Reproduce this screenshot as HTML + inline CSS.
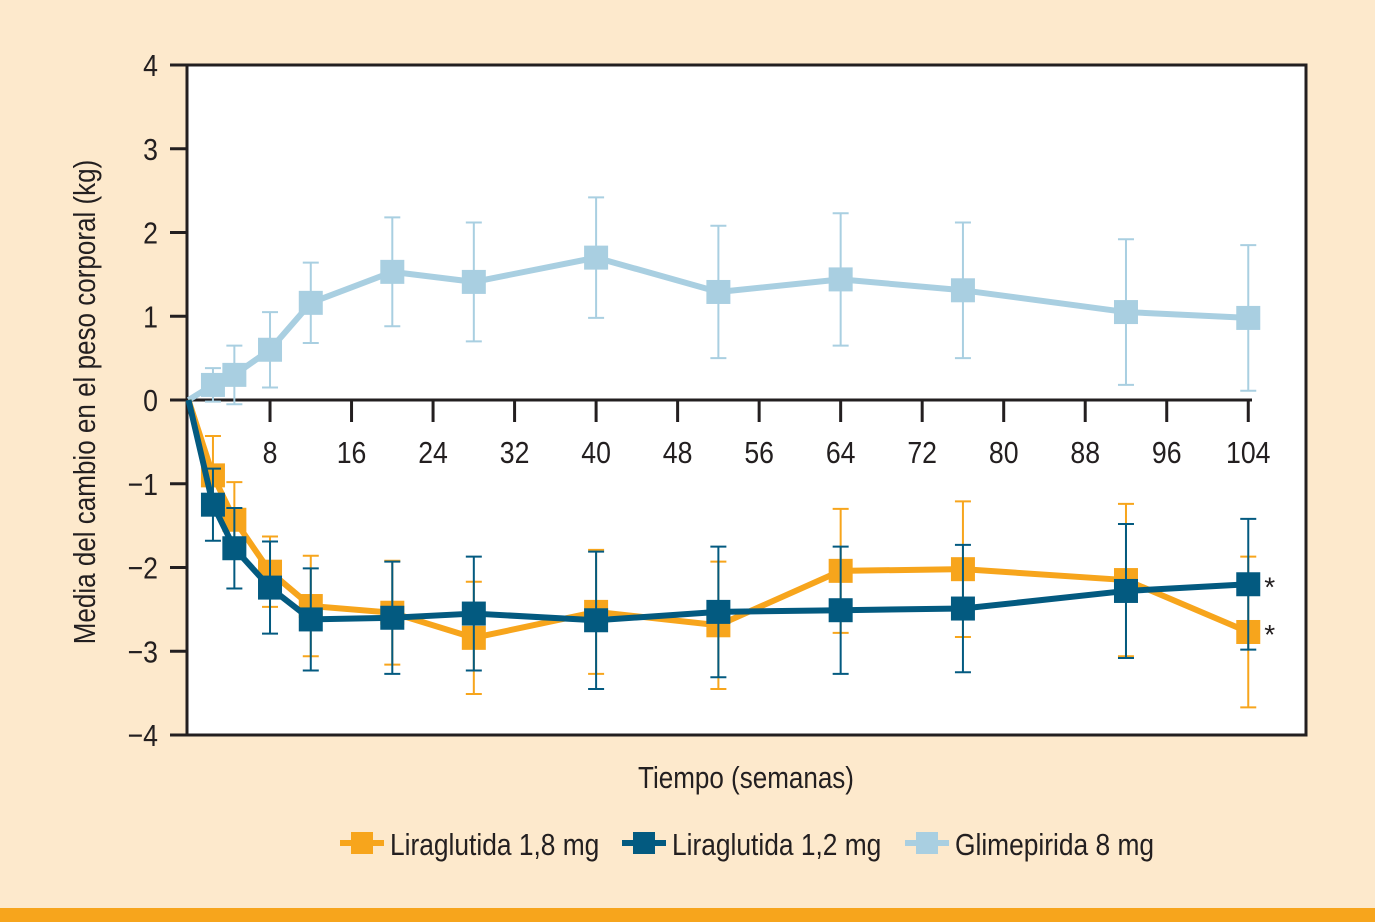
<!DOCTYPE html>
<html><head><meta charset="utf-8"><style>
body{margin:0;background:#fde9cc;}
svg{display:block;font-family:"Liberation Sans Narrow","Liberation Sans",sans-serif;}
</style></head><body>
<svg id="chart" width="1375" height="922" viewBox="0 0 1375 922">
<rect x="0" y="0" width="1375" height="922" fill="#fde9cc"/>
<rect x="0" y="908" width="1375" height="14" fill="#f7a51c"/>
<rect x="187" y="65" width="1119" height="670" fill="#fff" stroke="#231f20" stroke-width="3"/>
<g id="axes"></g>
<g id="series"></g>
<text transform="translate(95,402) rotate(-90) scale(0.84,1)" text-anchor="middle" font-size="31" fill="#231f20">Media del cambio en el peso corporal (kg)</text>
<text transform="translate(746,788) scale(0.84,1)" text-anchor="middle" font-size="31" fill="#231f20">Tiempo (semanas)</text>
<g id="legend"></g>
</svg>
<script>
const weeks=[0,2.4,4.5,8,12,20,28,40,52,64,76,92,104];
const glim=[0,0.18,0.3,0.6,1.16,1.53,1.41,1.7,1.29,1.44,1.31,1.05,0.98];
const glimErr=[0,0.2,0.35,0.45,0.48,0.65,0.71,0.72,0.79,0.79,0.81,0.87,0.87];
const lira18=[0,-0.9,-1.43,-2.05,-2.46,-2.54,-2.84,-2.53,-2.69,-2.04,-2.02,-2.15,-2.77];
const lira18Err=[0,0.47,0.45,0.42,0.6,0.62,0.67,0.74,0.76,0.74,0.81,0.91,0.9];
const lira12=[0,-1.25,-1.77,-2.24,-2.62,-2.6,-2.55,-2.63,-2.53,-2.51,-2.49,-2.28,-2.2];
const lira12Err=[0,0.43,0.48,0.55,0.61,0.67,0.68,0.82,0.78,0.76,0.76,0.8,0.78];
const xTicks=[8,16,24,32,40,48,56,64,72,80,88,96,104];
const yTicks=[4,3,2,1,0,-1,-2,-3,-4];
const seriesNames=["Liraglutida 1,8 mg","Liraglutida 1,2 mg","Glimepirida 8 mg"];
const starred=[true,true,false];

const NS="http://www.w3.org/2000/svg";
const X=w=>188.5+w*10.19;
const Y=v=>400-v*83.75;
function mk(tag,attrs,parent){const e=document.createElementNS(NS,tag);for(const k in attrs)e.setAttribute(k,attrs[k]);parent.appendChild(e);return e;}
const axes=document.getElementById('axes');
const ax=mk('line',{x1:187,y1:Y(0),x2:1252,y2:Y(0),stroke:'#231f20','stroke-width':3},axes);


xTicks.forEach(t=>{
  const l=mk('line',{x1:X(t),y1:Y(0),x2:X(t),y2:Y(0)+22,stroke:'#231f20','stroke-width':3},axes);
  
  
  const tx=mk('text',{transform:`translate(${X(t)},463) scale(0.86,1)`,'text-anchor':'middle','font-size':31,fill:'#231f20'},axes);
  tx.textContent=t;
  
  
});
yTicks.forEach(t=>{
  const l=mk('line',{x1:170,y1:Y(t),x2:187,y2:Y(t),stroke:'#231f20','stroke-width':3},axes);
  
  
  const tx=mk('text',{transform:`translate(158,${Y(t)+11}) scale(0.86,1)`,'text-anchor':'end','font-size':31,fill:'#231f20'},axes);
  tx.textContent=t<0?'\u2212'+(-t):String(t);
  
  
});
const sg=document.getElementById('series');
function drawSeries(vals,errs,color,name,star){
  const g=mk('g',{},sg);
  
  
  weeks.forEach((w,i)=>{
    if(!errs[i])return;
    const x=X(w),y1=Y(vals[i]+errs[i]),y2=Y(vals[i]-errs[i]);
    const e=mk('path',{d:`M${x},${y1}V${y2}M${x-8},${y1}H${x+8}M${x-8},${y2}H${x+8}`,stroke:color,'stroke-width':2,fill:'none'},g);
    
    
  });
  const pl=mk('polyline',{points:weeks.map((w,i)=>X(w)+','+Y(vals[i])).join(' '),stroke:color,'stroke-width':6,fill:'none','stroke-linejoin':'round'},g);
  
  
  weeks.forEach((w,i)=>{
    if(i===0)return;
    const r=mk('rect',{x:X(w)-12,y:Y(vals[i])-12,width:24,height:24,fill:color},g);
    
    
  });
  if(star){
    const n=vals.length-1;
    const s=mk('text',{x:X(weeks[n])+16,y:Y(vals[n])+12,'font-size':28,fill:'#231f20'},g);
    s.textContent='*';
    
    
  }
}
drawSeries(glim,glimErr,'#a9cfe1','series-glimepirida',starred[2]);
drawSeries(lira18,lira18Err,'#f7a51c','series-liraglutida-1-8',starred[0]);
drawSeries(lira12,lira12Err,'#035a80','series-liraglutida-1-2',starred[1]);
const lg=document.getElementById('legend');
const lx=[340,622,905],cols=['#f7a51c','#035a80','#a9cfe1'];
seriesNames.forEach((n,i)=>{
  const g=mk('g',{},lg);
  
  
  mk('line',{x1:lx[i],y1:843,x2:lx[i]+44,y2:843,stroke:cols[i],'stroke-width':6},g);
  mk('rect',{x:lx[i]+11,y:832,width:22,height:22,fill:cols[i]},g);
  const t=mk('text',{transform:`translate(${lx[i]+50},855) scale(0.85,1)`,'font-size':31,fill:'#231f20'},g);
  t.textContent=n;
});
</script>
</body></html>
